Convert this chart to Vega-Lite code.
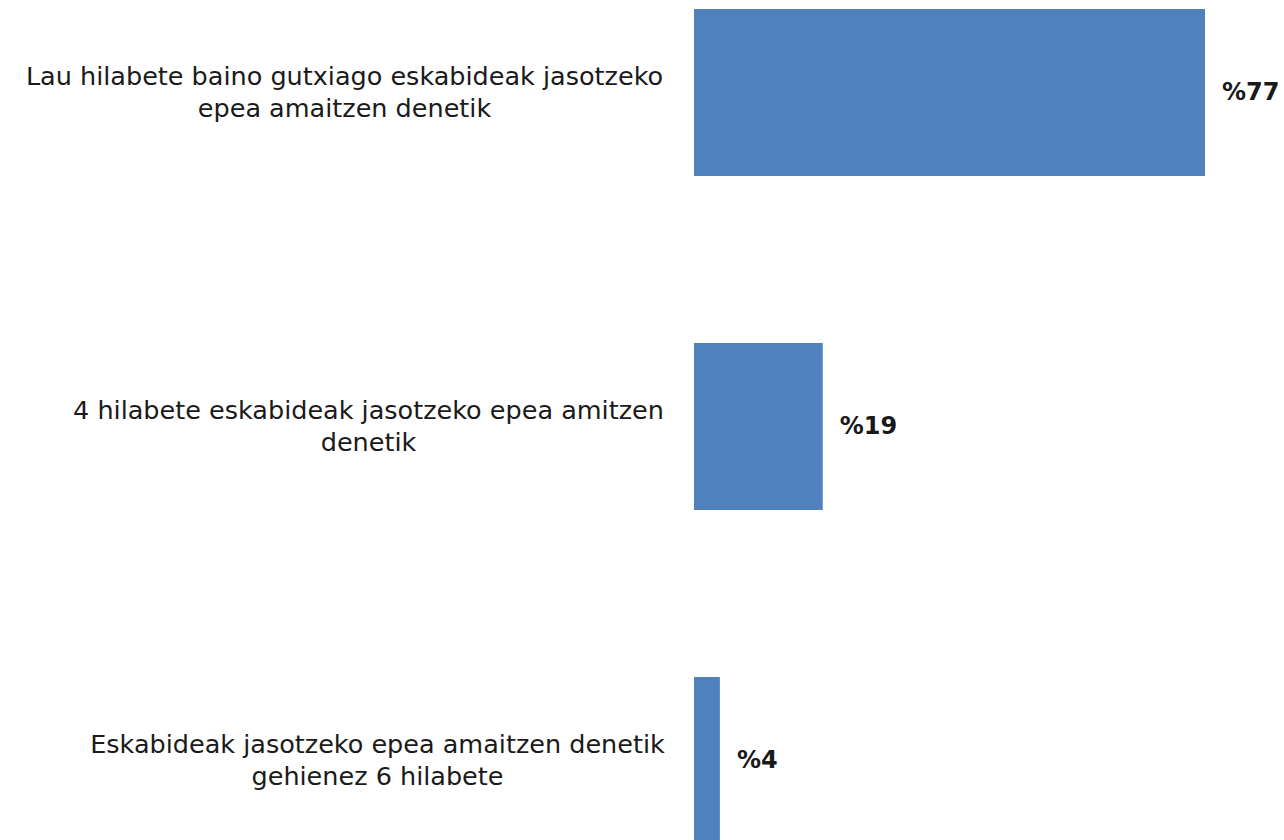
{
  "$schema": "https://vega.github.io/schema/vega-lite/v6.json",
  "autosize": {"type": "none"},
  "width": 511,
  "height": 835,
  "padding": {"left": 694, "top": 9, "right": 80, "bottom": 0},
  "background": "white",
  "config": {"view": {"stroke": null}},
  "data": {
    "values": [
      {"cat": "Lau hilabete baino gutxiago eskabideak jasotzeko|epea amaitzen denetik", "value": 77, "pct": "%77"},
      {"cat": "4 hilabete eskabideak jasotzeko epea amitzen|denetik", "value": 19.4, "pct": "%19"},
      {"cat": "Eskabideak jasotzeko epea amaitzen denetik|gehienez 6 hilabete", "value": 3.9, "pct": "%4"}
    ]
  },
  "encoding": {
    "y": {
      "field": "cat",
      "type": "nominal",
      "sort": null,
      "scale": {"paddingInner": 0.5, "paddingOuter": 0},
      "axis": {
        "title": null,
        "domain": false,
        "ticks": false,
        "labelExpr": "split(datum.label, '|')",
        "labelFont": "DejaVu Sans",
        "labelFontSize": 25.5,
        "labelColor": "#1a1a1a",
        "labelLineHeight": 32,
        "labelAlign": "center",
        "labelBaseline": "middle",
        "labelOffset": -16,
        "labelLimit": 0,
        "labelPadding": {
          "condition": [
            {"test": "datum.value == 'Lau hilabete baino gutxiago eskabideak jasotzeko|epea amaitzen denetik'", "value": 350},
            {"test": "datum.value == '4 hilabete eskabideak jasotzeko epea amitzen|denetik'", "value": 326}
          ],
          "value": 317
        }
      }
    },
    "x": {
      "field": "value",
      "type": "quantitative",
      "scale": {"domain": [0, 77], "nice": false},
      "axis": null
    }
  },
  "layer": [
    {"mark": {"type": "bar", "color": "#4F81BD"}},
    {
      "mark": {"type": "text", "align": "left", "baseline": "middle", "dx": 17, "font": "DejaVu Sans", "fontSize": 24, "fontWeight": "bold", "color": "#1a1a1a"},
      "encoding": {"text": {"field": "pct"}}
    }
  ]
}
